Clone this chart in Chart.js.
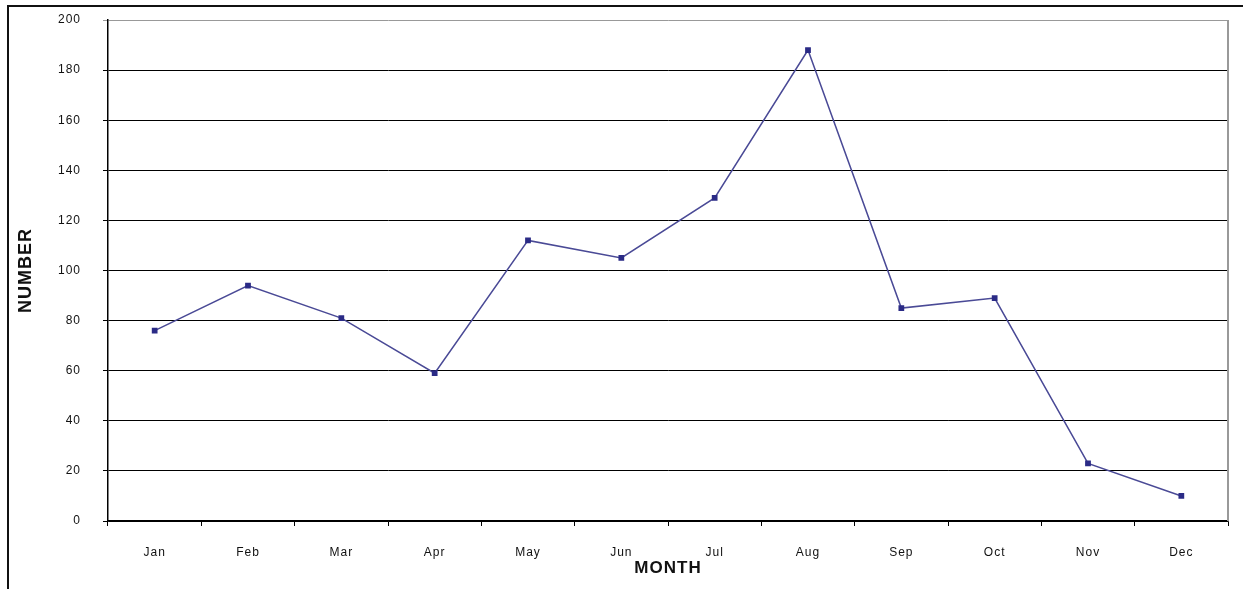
<!DOCTYPE html>
<html>
<head>
<meta charset="utf-8">
<script src="https://cdn.jsdelivr.net/npm/chart.js@4.4.1/dist/chart.umd.min.js"></script>
<style>
  body { margin: 0; background: #fff; }
  #wrap { position: relative; width: 1243px; height: 589px; }
  #frame { position: absolute; left: 7px; top: 5px; right: 0; bottom: 0;
           border-left: 2px solid #111; border-top: 2px solid #111; pointer-events: none; }
  canvas { position: absolute; left: 0; top: 0; }
</style>
</head>
<body>
<div id="wrap">
  <canvas id="chart" width="1243" height="589"></canvas>
  <div id="frame"></div>
</div>
<script>
const months = ['Jan', 'Feb', 'Mar', 'Apr', 'May', 'Jun', 'Jul', 'Aug', 'Sep', 'Oct', 'Nov', 'Dec'];
const counts = [76, 94, 81, 59, 112, 105, 129, 188, 85, 89, 23, 10];
const yMin = 0;
const yMax = 200;
const yStep = 20;

// gray border on the right side of the plot area
const plotEdge = {
  id: 'plotEdge',
  beforeDatasetsDraw(chart) {
    const { ctx, chartArea } = chart;
    ctx.save();
    ctx.strokeStyle = '#999';
    ctx.lineWidth = 2;
    ctx.beginPath();
    ctx.moveTo(chartArea.right, chartArea.top);
    ctx.lineTo(chartArea.right, chartArea.bottom);
    ctx.stroke();
    ctx.restore();
  }
};

const spacing = {
  id: 'spacing',
  beforeDraw(chart) { chart.ctx.letterSpacing = '1px'; },
  afterDraw(chart) { chart.ctx.letterSpacing = '0px'; }
};

new Chart(document.getElementById('chart').getContext('2d'), {
  type: 'line',
  data: {
    labels: months,
    datasets: [{
      data: counts,
      borderColor: '#4a4a96',
      borderWidth: 1.5,
      backgroundColor: '#2b2b86',
      pointBackgroundColor: '#2b2b86',
      pointBorderColor: '#2b2b86',
      pointStyle: 'rect',
      pointRadius: 3,
      tension: 0
    }]
  },
  options: {
    responsive: false,
    animation: false,
    layout: { padding: { top: 20, right: 15, left: 0, bottom: 0 } },
    plugins: { legend: { display: false }, tooltip: { enabled: false } },
    scales: {
      x: {
        offset: true,
        grid: { offset: true, drawOnChartArea: false, color: '#000', tickLength: 5 },
        border: { color: '#000', width: 1.5 },
        ticks: { color: '#111', font: { family: 'Arial, Liberation Sans', size: 12 }, padding: 19, maxRotation: 0 },
        title: { display: true, text: 'MONTH', color: '#111', font: { family: 'Arial, Liberation Sans', size: 17, weight: 'bold' }, padding: { top: 0, bottom: 10 } },
        afterFit(scale) { scale.height = 68; scale.paddingLeft = 0; scale.paddingRight = 0; }
      },
      y: {
        min: yMin,
        max: yMax,
        ticks: { stepSize: yStep, color: '#111', font: { family: 'Arial, Liberation Sans', size: 12 }, padding: 22 },
        grid: {
          color: (c) => c.tick && c.tick.value === yMax ? '#999' : '#000',
          lineWidth: 1,
          tickLength: 5
        },
        border: { color: '#000', width: 1.5 },
        title: { display: true, text: 'NUMBER', color: '#111', font: { family: 'Liberation Sans Narrow, Arial Narrow, Arial', size: 18, weight: 'bold' }, padding: { top: 15, bottom: 0 } },
        afterFit(scale) { scale.width = 108; scale.paddingTop = 0; scale.paddingBottom = 0; }
      }
    }
  },
  plugins: [plotEdge, spacing]
});
</script>
</body>
</html>
